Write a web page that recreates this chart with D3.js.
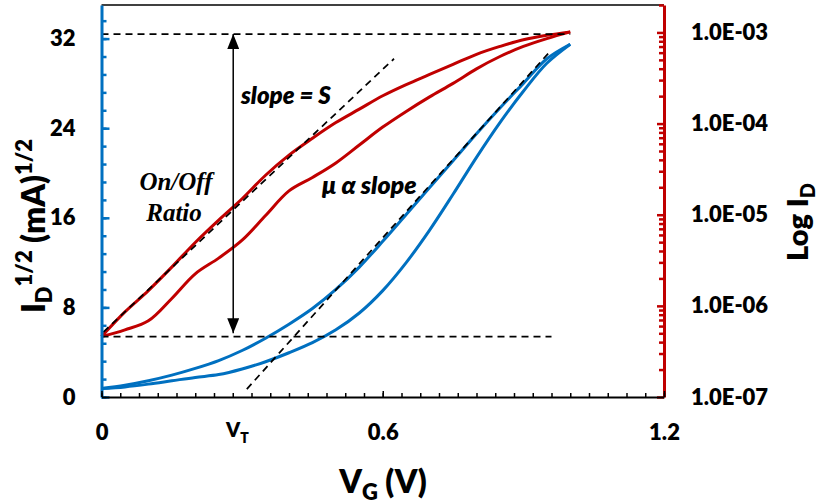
<!DOCTYPE html>
<html>
<head>
<meta charset="utf-8">
<script src="https://cdn.jsdelivr.net/npm/d3@7"></script>
<style>
  body { margin: 0; background: #fff; }
  svg text { font-family: Lato, "Open Sans", sans-serif; font-weight: 800; fill: #000; }
  svg text.serif, svg text.serif tspan { font-family: "Liberation Serif", "DejaVu Serif", serif; font-weight: bold; }
</style>
</head>
<body>
<div id="chart"></div>
<script>
// gate voltage sweep (V)
const vg = [0, 0.05, 0.1, 0.15, 0.2, 0.25, 0.3, 0.35, 0.4, 0.45, 0.5,
            0.55, 0.6, 0.65, 0.7, 0.75, 0.8, 0.85, 0.9, 0.95, 1.0];

// log I_D traces (plotted on the sqrt axis scale, red)
const redFwd = [5.4, 7.6, 9.5, 11.6, 13.8, 15.8, 17.7, 19.8, 21.6, 23.1, 24.5,
                25.7, 26.9, 27.9, 28.8, 29.7, 30.6, 31.3, 31.9, 32.3, 32.6];
const redRev = [5.4, 6.0, 6.8, 8.8, 11.0, 12.4, 14.0, 16.2, 18.4, 19.6, 20.9,
                22.5, 24.1, 25.5, 26.8, 28.0, 29.3, 30.4, 31.3, 32.0, 32.6];

// sqrt(I_D) traces (blue)
const blueFwd = [0.75, 1.05, 1.45, 1.95, 2.55, 3.25, 4.15, 5.25, 6.5, 7.9, 9.6,
                 11.6, 13.9, 16.3, 18.7, 21.1, 23.5, 25.8, 28.0, 30.2, 31.5];
const blueRev = [0.75, 0.9, 1.15, 1.45, 1.75, 2.0, 2.5, 3.15, 3.95, 4.85, 6.0,
                 7.5, 9.5, 12.0, 14.9, 18.1, 21.4, 24.5, 27.3, 29.8, 31.5];

// guide lines
const onLevel = 32.4;
const offLevel = 5.4;
const slopeLine = [[0.004, 5.8], [0.624, 30.2]];
const muLine = [[0.31, 0.7], [0.96, 31.0]];
const vt = 0.29;

// ticks
const leftTicks = [0, 8, 16, 24, 32];
const rightTicks = [1e-7, 1e-6, 1e-5, 1e-4, 1e-3];
const xTicks = [0, 0.6, 1.2];

const width = 820, height = 504;
const blue = "#0070C0", red = "#C00000";

const svg = d3.select("#chart").append("svg")
  .attr("width", width)
  .attr("height", height);

const x = d3.scaleLinear().domain([0, 1.2]).range([101.5, 664]);
const y = d3.scaleLinear().domain([0, 35]).range([397, 5]);
const yR = d3.scaleLog().domain([1e-7, 2e-3]).range([397, 5]);

const line = d3.line()
  .x((d, i) => x(vg[i]))
  .y(d => y(d))
  .curve(d3.curveCatmullRom);

// curves
[[redFwd, red], [redRev, red], [blueFwd, blue], [blueRev, blue]].forEach(([s, c]) => {
  svg.append("path")
    .datum(s)
    .attr("d", line)
    .attr("fill", "none")
    .attr("stroke", c)
    .attr("stroke-width", 3);
});

// dashed guides
const dashed = (pts) => svg.append("line")
  .attr("x1", x(pts[0][0])).attr("y1", y(pts[0][1]))
  .attr("x2", x(pts[1][0])).attr("y2", y(pts[1][1]))
  .attr("stroke", "#000")
  .attr("stroke-width", 1.75)
  .attr("stroke-dasharray", "7,5");

dashed([[0, onLevel], [1.0, onLevel]]);
dashed([[0, offLevel], [0.96, offLevel]]);
dashed(slopeLine);
dashed(muLine);

// on/off arrow
const defs = svg.append("defs");
defs.append("marker")
  .attr("id", "arr")
  .attr("viewBox", "0 0 10 10")
  .attr("refX", 10).attr("refY", 5)
  .attr("markerWidth", 15).attr("markerHeight", 12)
  .attr("markerUnits", "userSpaceOnUse")
  .attr("orient", "auto-start-reverse")
  .attr("preserveAspectRatio", "none")
  .append("path")
  .attr("d", "M0,0 L10,5 L0,10 Z")
  .attr("fill", "#000");

svg.append("line")
  .attr("x1", x(0.281)).attr("y1", y(offLevel + 0.3))
  .attr("x2", x(0.281)).attr("y2", y(onLevel))
  .attr("stroke", "#000")
  .attr("stroke-width", 1.5)
  .attr("marker-start", "url(#arr)")
  .attr("marker-end", "url(#arr)");

// annotations
svg.append("text").attr("x", 241).attr("y", 104)
  .style("font-size", "24px").style("font-style", "italic")
  .text("slope = S");

svg.append("text").attr("x", 322).attr("y", 194)
  .style("font-size", "25px").style("font-style", "italic")
  .text("\u03bc \u03b1 slope");

const onOff = svg.append("text")
  .attr("class", "serif")
  .attr("text-anchor", "middle")
  .style("font-size", "25px").style("font-style", "italic");
onOff.append("tspan").attr("x", 176).attr("y", 190).text("On/Off");
onOff.append("tspan").attr("x", 174).attr("y", 221).text("Ratio");

// frame top
svg.append("line")
  .attr("x1", x(0)).attr("x2", x(1.2))
  .attr("y1", y(35)).attr("y2", y(35))
  .attr("stroke", "#000").attr("stroke-width", 1.5);

// left axis
svg.append("g")
  .attr("transform", `translate(${x(0)},0)`)
  .call(d3.axisLeft(y).tickValues(d3.range(0, 34, 1.6)).tickSizeInner(-5).tickSizeOuter(0).tickFormat(""))
  .call(g => g.selectAll(".tick line").attr("stroke", blue).attr("stroke-width", 2.5))
  .call(g => g.select(".domain").remove());

svg.append("g")
  .attr("transform", `translate(${x(0)},0)`)
  .call(d3.axisLeft(y).tickValues(leftTicks).tickSizeInner(-8).tickSizeOuter(0).tickPadding(26))
  .call(g => g.selectAll(".tick line").attr("stroke", blue).attr("stroke-width", 2.5))
  .call(g => g.select(".domain").attr("stroke", blue).attr("stroke-width", 3))
  .call(g => g.selectAll("text").style("font-size", "22px").attr("fill", "#000"));

// right axis
const minorR = [];
rightTicks.forEach(d => { for (let k = 2; k <= 9; k++) if (d * k <= 2e-3) minorR.push(d * k); });
svg.append("g")
  .attr("transform", `translate(${x(1.2)},0)`)
  .call(d3.axisRight(yR).tickValues(minorR).tickSizeInner(-5).tickSizeOuter(0).tickFormat(""))
  .call(g => g.selectAll(".tick line").attr("stroke", red).attr("stroke-width", 2.5))
  .call(g => g.select(".domain").remove());

svg.append("g")
  .attr("transform", `translate(${x(1.2)},0)`)
  .call(d3.axisRight(yR).tickValues(rightTicks).tickSizeInner(-7).tickSizeOuter(0).tickPadding(27)
    .tickFormat(d => "1.0E-" + String(-Math.round(Math.log10(d))).padStart(2, "0")))
  .call(g => g.selectAll(".tick line").attr("stroke", red).attr("stroke-width", 2.5))
  .call(g => g.select(".domain").attr("stroke", red).attr("stroke-width", 3))
  .call(g => g.selectAll("text").style("font-size", "22px").attr("fill", "#000"));

// bottom axis
svg.append("g")
  .attr("transform", `translate(0,${y(0)})`)
  .call(d3.axisBottom(x).tickValues(d3.range(0, 1.21, 0.04)).tickSizeInner(-4).tickSizeOuter(0).tickFormat(""))
  .call(g => g.selectAll(".tick line").attr("stroke", "#000").attr("stroke-width", 1.5))
  .call(g => g.select(".domain").remove());

svg.append("g")
  .attr("transform", `translate(0,${y(0)})`)
  .call(d3.axisBottom(x).tickValues(xTicks).tickSizeInner(-6).tickSizeOuter(0).tickPadding(27)
    .tickFormat(d3.format("")))
  .call(g => g.selectAll(".tick line").attr("stroke", "#000").attr("stroke-width", 1.5))
  .call(g => g.select(".domain").attr("stroke", "#000").attr("stroke-width", 2))
  .call(g => g.selectAll("text").style("font-size", "22px").attr("fill", "#000"));

// V_T label
const vtLabel = svg.append("text")
  .attr("x", x(vt)).attr("y", 437)
  .attr("text-anchor", "middle")
  .style("font-size", "20px");
vtLabel.append("tspan").text("V");
vtLabel.append("tspan").attr("dy", 6).style("font-size", "14px").text("T");

// axis titles
const xt = svg.append("text")
  .attr("x", 383).attr("y", 493)
  .attr("text-anchor", "middle")
  .style("font-size", "32px");
xt.append("tspan").text("V");
xt.append("tspan").attr("dy", 7).style("font-size", "22px").text("G");
xt.append("tspan").attr("dy", -7).text(" (V)");

const yt = svg.append("text")
  .attr("transform", "translate(45,226) rotate(-90)")
  .attr("text-anchor", "middle")
  .style("font-size", "32px");
yt.append("tspan").text("I");
yt.append("tspan").attr("dy", 7).style("font-size", "22px").text("D");
yt.append("tspan").attr("dy", -20).style("font-size", "22px").text("1/2");
yt.append("tspan").attr("dy", 13).text(" (mA)");
yt.append("tspan").attr("dy", -13).style("font-size", "22px").text("1/2");

const yr = svg.append("text")
  .attr("transform", "translate(808,222) rotate(-90)")
  .attr("text-anchor", "middle")
  .style("font-size", "29px");
yr.append("tspan").text("Log I");
yr.append("tspan").attr("dy", 7).style("font-size", "20px").text("D");
</script>
</body>
</html>
